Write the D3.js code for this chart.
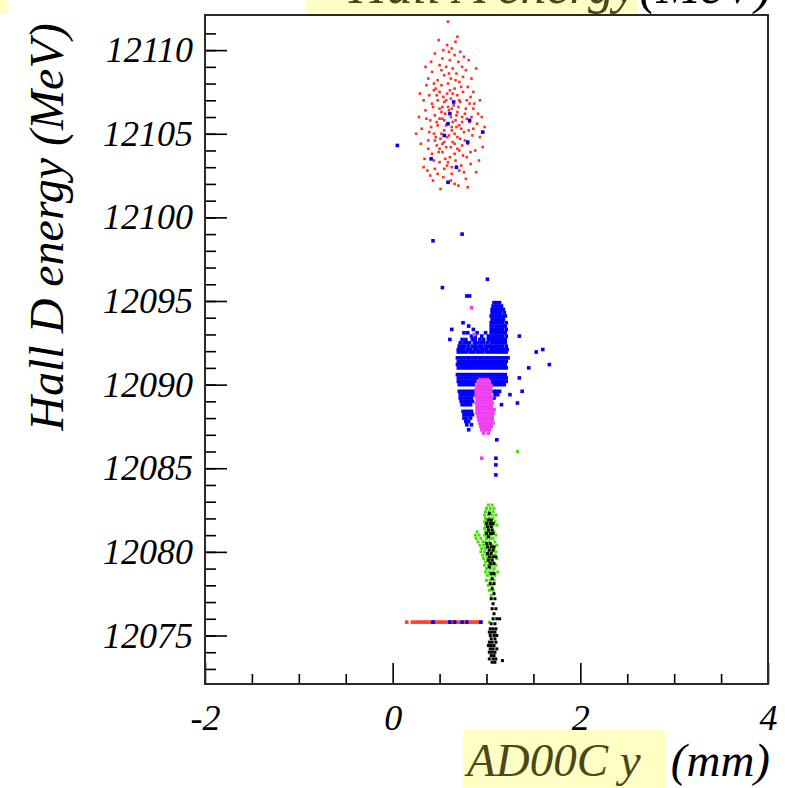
<!DOCTYPE html>
<html lang="en">
<head>
<meta charset="UTF-8">
<title>Hall D energy vs AD00C y</title>
<style>
    body{margin:0;background:#fff;}
    svg text{font-family:'Liberation Serif','DejaVu Serif','Times New Roman',Times,serif !important;font-style:italic;}
</style>
</head>
<body>
<script src="https://cdn.jsdelivr.net/npm/d3@7/dist/d3.min.js"></script>
<script>
    var width=785;
    var height=788;
    var serif="'Liberation Serif','DejaVu Serif','Times New Roman',Times,serif";

    // axis ticks
    var xMajor=[-2,0,2,4];
    var xMinor=[-1.5,-1,-0.5,0.5,1,1.5,2.5,3,3.5];
    var yMajor=[12075,12080,12085,12090,12095,12100,12105,12110];
    var yMinor=d3.range(12073,12112);

    // Hall A cluster (red), [x, y]
    var redPts=[[0.49,12110.6],[0.58,12110.3],[0.63,12110.1],[0.72,12109.9],[0.45,12109.8],[0.66,12109.7],[0.53,12109.5],
        [0.61,12109.4],[0.70,12109.3],[0.76,12109.6],[0.50,12109.1],[0.57,12109.0],[0.64,12108.9],[0.74,12109.0],[0.42,12108.7],
        [0.68,12108.6],[0.78,12108.8],[0.55,12108.5],[0.62,12108.3],[0.48,12108.2],[0.71,12108.1],[0.59,12108.0],[0.36,12107.9],
        [0.80,12107.8],[0.66,12107.7],[0.52,12107.9],[0.44,12107.6],[0.75,12107.5],[0.58,12107.4],[0.69,12107.3],[0.39,12107.3],
        [0.83,12107.2],[0.62,12107.1],[0.48,12107.0],[0.55,12106.9],[0.72,12106.9],[0.87,12106.8],[0.42,12106.8],[0.65,12106.7],
        [0.59,12106.6],[0.50,12106.5],[0.78,12106.5],[0.35,12106.4],[0.69,12106.3],[0.56,12106.2],[0.91,12106.2],[0.45,12106.1],
        [0.62,12106.0],[0.74,12106.0],[0.53,12105.9],[0.67,12105.8],[0.40,12105.8],[0.82,12105.7],[0.58,12105.6],[0.48,12105.5],
        [0.71,12105.5],[0.63,12105.4],[0.31,12105.3],[0.86,12105.3],[0.55,12105.2],[0.76,12105.1],[0.44,12105.0],[0.66,12105.0],
        [0.60,12104.9],[0.93,12104.8],[0.51,12104.7],[0.72,12104.7],[0.38,12104.6],[0.64,12104.5],[0.80,12104.4],[0.47,12104.3],
        [0.57,12104.2],[0.69,12104.1],[0.88,12104.0],[0.53,12103.9],[0.42,12103.8],[0.75,12103.7],[0.61,12103.6],[0.34,12103.5],
        [0.67,12103.4],[0.50,12103.3],[0.83,12103.2],[0.58,12103.1],[0.45,12102.9],[0.71,12102.8],[0.63,12102.6],[0.54,12102.4],
        [0.78,12102.3],[0.40,12102.5],[0.66,12102.0],[0.80,12101.8],[0.46,12107.7],[0.61,12107.6],[0.73,12107.8],[0.54,12107.2],
        [0.79,12107.0],[0.43,12106.6],[0.52,12106.3],[0.60,12106.4],[0.68,12106.1],[0.77,12106.2],[0.84,12106.0],[0.47,12105.7],
        [0.55,12105.8],[0.64,12105.7],[0.73,12105.3],[0.79,12105.9],[0.41,12105.4],[0.52,12105.0],[0.58,12104.8],[0.69,12104.8],
        [0.77,12104.6],[0.85,12104.9],[0.45,12104.6],[0.55,12104.5],[0.62,12104.2],[0.74,12104.3],[0.49,12103.9],[0.66,12103.8],
        [0.56,12103.5],[0.79,12103.6],[0.38,12104.1],[0.90,12105.6],[0.95,12106.0],[0.28,12106.0],[0.33,12107.0],[0.60,12109.9],
        [0.67,12110.5],[0.54,12110.0],[0.47,12107.3],[0.86,12107.5],[0.63,12105.2],[0.70,12106.6],[0.50,12104.1],[0.59,12103.3],
        [0.73,12103.1],[0.48,12102.6],[0.62,12102.2],[0.70,12101.9],[0.59,12111.7],
        [0.30,12104.4],[0.33,12103.0],[0.36,12105.9],[0.29,12107.4],[0.25,12105.0],[0.37,12102.8],[0.43,12102.2],[0.51,12101.7],
        [0.92,12103.4],[0.96,12104.2],[0.89,12102.7],[0.98,12105.4],[0.93,12107.0],[0.84,12108.3],[0.89,12108.9],[0.81,12109.4],
        [0.38,12108.3],[0.41,12109.3],[0.35,12109.0],[0.69,12110.8],[0.52,12108.8],[0.60,12108.6],[0.67,12108.2],[0.75,12108.4],
        [0.44,12108.0],[0.53,12106.6],[0.63,12106.5],[0.74,12105.7],[0.50,12105.9],[0.57,12105.5],[0.81,12105.2],[0.68,12105.4],
        [0.39,12105.1],[0.46,12104.8],[0.53,12104.4],[0.66,12104.4],[0.71,12104.0],[0.83,12103.9],[0.44,12103.4],[0.63,12103.0],
        [0.76,12102.7],[0.55,12102.9],[0.86,12106.5],[0.82,12106.8],[0.57,12107.0],[0.64,12107.4],[0.71,12107.0],[0.50,12107.5]];

    // red band at the bottom: y then x values
    var redLine=[12075.8,0.15,0.21,0.24,0.27,0.30,0.33,0.35,0.38,0.41,0.44,0.47,0.50,0.52,0.55,0.58,0.61,0.64,0.66,
        0.69,0.72,0.75,0.78,0.80,0.83,0.86,0.89,0.91,0.94];

    // blue: rows of [y, x, x, ...]
    var blueRows=[
        [12104.3,0.05],[12106.9,0.65],[12106.2,0.61],[12105.6,0.59],[12105.8,0.82],[12105.1,0.96],[12104.9,0.55],
        [12104.5,0.80],[12103.5,0.41],[12103.0,0.68],[12102.1,0.59],[12099.0,0.74],[12098.6,0.43],
        [12096.3,1.01],[12095.8,0.53],[12095.3,0.79,0.82],
        [12094.9,1.08,1.11,1.14],
        [12094.7,1.07,1.10,1.13,1.16],
        [12094.5,1.06,1.09,1.12,1.15,1.18],
        [12094.3,1.06,1.09,1.12,1.15,1.19],
        [12094.1,1.05,1.08,1.11,1.14,1.17,1.20],
        [12093.9,1.06,1.09,1.12,1.15,1.18],
        [12093.7,0.75,1.05,1.08,1.11,1.14,1.17,1.21],
        [12093.5,0.81,1.05,1.08,1.11,1.14,1.17,1.20],
        [12093.3,0.63,0.86,1.05,1.08,1.11,1.14,1.17,1.21],
        [12093.1,0.76,0.80,0.90,0.99,1.05,1.08,1.11,1.14,1.17,1.20],
        [12092.9,0.84,0.88,0.95,1.02,1.05,1.08,1.11,1.14,1.17,1.21,1.35],
        [12092.7,0.61,0.74,0.78,0.85,0.88,0.93,0.97,1.02,1.05,1.08,1.11,1.14,1.17,1.20],
        [12092.5,0.72,0.76,0.79,0.82,0.87,0.90,0.94,0.97,1.01,1.05,1.08,1.11,1.14,1.17,1.20],
        [12092.3,0.71,0.74,0.77,0.81,0.85,0.88,0.92,0.95,0.99,1.02,1.05,1.08,1.11,1.14,1.17,1.21],
        [12092.1,0.70,0.73,0.76,0.80,0.83,0.87,0.90,0.94,0.97,1.00,1.04,1.07,1.10,1.13,1.16,1.19,1.22,1.60],
        [12091.95,0.70,0.73,0.76,0.79,0.83,0.86,0.90,0.93,0.96,1.00,1.03,1.06,1.09,1.12,1.15,1.18,1.21,1.53],
        [12091.6,0.69,0.72,0.75,0.78,0.81,0.84,0.87,0.90,0.93,0.96,0.99,1.02,1.05,1.08,1.11,1.14,1.17,1.20,1.23],
        [12091.4,0.70,0.73,0.76,0.79,0.82,0.85,0.88,0.91,0.94,0.97,1.00,1.03,1.06,1.09,1.12,1.15,1.18,1.21],
        [12091.2,0.69,0.72,0.75,0.78,0.81,0.84,0.87,0.90,0.93,0.96,0.99,1.02,1.05,1.08,1.11,1.14,1.17,1.20,1.67],
        [12091.0,0.70,0.73,0.76,0.79,0.82,0.85,0.88,0.91,0.94,0.97,1.00,1.03,1.06,1.09,1.12,1.15,1.18,1.21,1.45],
        [12090.6,0.69,0.72,0.75,0.78,0.81,0.84,0.87,0.90,0.93,0.96,0.99,1.02,1.05,1.08,1.11,1.14,1.17,1.20],
        [12090.4,0.70,0.73,0.76,0.79,0.82,0.85,0.88,0.91,0.94,0.97,1.00,1.03,1.06,1.09,1.12,1.15,1.18,1.21,1.35],
        [12090.2,0.70,0.73,0.76,0.79,0.82,0.85,0.88,1.06,1.09,1.12,1.15,1.18,1.21],
        [12090.0,0.71,0.74,0.77,0.80,0.83,0.86,1.07,1.10,1.13,1.16,1.19],
        [12089.6,0.71,0.74,0.77,0.80,0.83,0.86,1.08,1.11,1.14,1.38],
        [12089.4,0.72,0.75,0.78,0.81,0.84,0.87,1.09,1.12,1.25],
        [12089.2,0.72,0.75,0.78,0.81,0.84,1.08],
        [12089.0,0.73,0.76,0.79,0.82,0.85],
        [12088.9,1.33],
        [12088.8,0.74,0.77,0.80,0.83,1.16],
        [12088.4,0.75,0.78,0.81,0.84],
        [12088.2,0.76,0.79,0.82,0.85],
        [12088.0,0.76,0.79,0.83],
        [12087.8,0.78,0.81],
        [12087.6,0.79,0.84],
        [12087.3,0.81],
        [12086.7,1.11],[12085.6,1.10],[12085.2,1.10],[12084.6,1.10],
        [12075.8,0.43,0.61,0.66,0.74,0.79,0.94]];

    var magentaRows=[
        [12094.6,0.84],[12093.0,0.87],
        [12090.3,0.93,0.97,1.01],
        [12090.1,0.91,0.94,0.97,1.00,1.03],
        [12089.9,0.90,0.93,0.96,0.99,1.02,1.05],
        [12089.7,0.89,0.92,0.95,0.98,1.01,1.04],
        [12089.5,0.89,0.92,0.95,0.98,1.01,1.04],
        [12089.3,0.89,0.92,0.95,0.98,1.01,1.04,1.06],
        [12089.1,0.90,0.93,0.96,0.99,1.02,1.05],
        [12088.9,0.89,0.92,0.95,0.98,1.01,1.04,1.06],
        [12088.7,0.90,0.93,0.96,0.99,1.02,1.05],
        [12088.5,0.90,0.93,0.96,0.99,1.02,1.05,1.08],
        [12088.3,0.90,0.93,0.96,0.99,1.02,1.05,1.07],
        [12088.1,0.91,0.94,0.97,1.00,1.03,1.06],
        [12087.9,0.92,0.95,0.98,1.01,1.04,1.06],
        [12087.7,0.93,0.96,0.99,1.02,1.05,1.07],
        [12087.5,0.94,0.97,1.00,1.03,1.05],
        [12087.3,0.95,0.98,1.01,1.03],
        [12087.1,0.97,1.02],
        [12085.6,0.95]];

    var greenRows=[
        [12086.0,1.33],
        [12082.8,1.02,1.06],
        [12082.6,1.00,1.04,1.08],
        [12082.4,0.99,1.03,1.07],
        [12082.2,0.98,1.02,1.06,1.10],
        [12082.0,0.99,1.03,1.07],
        [12081.8,0.98,1.01,1.05,1.09],
        [12081.6,0.99,1.03,1.07,1.11],
        [12081.4,0.98,1.02,1.06],
        [12081.2,0.90,0.99,1.03,1.08],
        [12081.0,0.88,0.92,0.98,1.01,1.05,1.10],
        [12080.8,0.89,0.94,1.00,1.04,1.07],
        [12080.6,0.91,0.96,0.99,1.03,1.09],
        [12080.4,0.93,0.97,1.01,1.06,1.11],
        [12080.2,0.95,0.99,1.03,1.08],
        [12080.0,0.94,0.98,1.02,1.06,1.10],
        [12079.8,0.96,1.00,1.04,1.09],
        [12079.6,0.97,1.01,1.05,1.11],
        [12079.4,0.99,1.03,1.07],
        [12079.2,0.98,1.02,1.06,1.10],
        [12079.0,1.00,1.04,1.08],
        [12078.8,0.99,1.03,1.07,1.12],
        [12078.6,1.01,1.05,1.09],
        [12078.3,1.00,1.04,1.08],
        [12078.0,1.02,1.06],
        [12077.7,1.03,1.07],
        [12077.4,1.05],
        [12075.8,1.03]];

    var blackRows=[
        [12082.3,1.03],
        [12081.9,1.02,1.05],
        [12081.7,1.00,1.04,1.07],
        [12081.5,1.01,1.05],
        [12081.3,1.02,1.06],
        [12081.1,1.00,1.04,1.07],
        [12080.9,1.02],
        [12080.5,1.00,1.04],
        [12080.3,1.01,1.05,1.08],
        [12080.1,1.03,1.07],
        [12079.9,1.01,1.05],
        [12079.7,1.03,1.07,1.10],
        [12079.5,1.02,1.06],
        [12079.3,1.04,1.08],
        [12079.1,1.03],
        [12078.7,1.05,1.08],
        [12078.4,1.06],
        [12078.1,1.04,1.08],
        [12077.8,1.06],
        [12077.5,1.08],
        [12077.2,1.05,1.09],
        [12076.9,1.07],
        [12076.6,1.06,1.10],
        [12076.3,1.08],
        [12076.0,1.07,1.11,1.14],
        [12075.7,1.05,1.09],
        [12075.4,1.04,1.07,1.10],
        [12075.2,1.03,1.06,1.09],
        [12075.0,1.04,1.08,1.11],
        [12074.8,1.05,1.09],
        [12074.6,1.03,1.06,1.10],
        [12074.4,1.02,1.05,1.08],
        [12074.2,1.04,1.07,1.11],
        [12074.0,1.03,1.06,1.09],
        [12073.8,1.05,1.08],
        [12073.6,1.03,1.07,1.10],
        [12073.5,1.17],
        [12073.4,1.06,1.09]];

    function fromRows(rows){
        var out=[];
        rows.forEach(function(r){
            for(var i=1;i<r.length;i++){ out.push([r[i],r[0]]); }
        });
        return out;
    }

    var svg=d3.select('body')
            .append('svg')
            .attr('width',width)
            .attr('height',height);

    svg.append('rect').attr('width',width).attr('height',height).attr('fill','#fff');

    var x=d3.scaleLinear().domain([-2,4]).range([205,768]);
    var y=d3.scaleLinear().domain([12072.1,12112.1]).range([684,15]);

    svg.append('clipPath').attr('id','plot')
            .append('rect')
            .attr('x',205).attr('y',15)
            .attr('width',563).attr('height',669);

    function drawPts(data,color,size){
        svg.append('g')
                .attr('clip-path','url(#plot)')
                .selectAll('rect')
                .data(data)
                .enter()
                .append('rect')
                .attr('x',function(d){ return x(d[0])-size/2; })
                .attr('y',function(d){ return y(d[1])-size/2; })
                .attr('width',size)
                .attr('height',size)
                .attr('fill',color);
    }

    drawPts(redPts,'#ff3020',2.6);
    drawPts(fromRows([redLine]),'#ff4030',3.6);
    drawPts(fromRows(blueRows),'#0000ff',3.6);
    drawPts(fromRows(magentaRows),'#f040f0',3.6);
    drawPts(fromRows(greenRows),'#44e000',3);
    drawPts(fromRows(blackRows),'#000',3);

    function styleAxis(g,size){
        g.select('.domain').remove();
        g.attr('font-size',size).attr('font-family',serif);
        g.selectAll('line').attr('stroke','#000').attr('stroke-width',1.6);
        g.selectAll('text').attr('fill','#000').attr('font-family',serif).attr('font-style','italic');
    }

    // plain hyphen minus, as in the original labels
    var plain=function(d){ return String(d); };

    // y axis: minor then major ticks pointing into the frame
    svg.append('g')
            .attr('transform','translate(205,0)')
            .call(d3.axisLeft(y).tickValues(yMinor).tickSize(-11).tickFormat(''))
            .call(function(g){ styleAxis(g,36); });
    svg.append('g')
            .attr('transform','translate(205,0)')
            .call(d3.axisLeft(y).tickValues(yMajor).tickSize(-22).tickPadding(12).tickFormat(plain))
            .call(function(g){ styleAxis(g,36); });

    // x axis
    svg.append('g')
            .attr('transform','translate(0,684)')
            .call(d3.axisBottom(x).tickValues(xMinor).tickSize(-10).tickFormat(''))
            .call(function(g){ styleAxis(g,36); });
    svg.append('g')
            .attr('transform','translate(0,684)')
            .call(d3.axisBottom(x).tickValues(xMajor).tickSize(-21).tickPadding(20).tickFormat(plain))
            .call(function(g){ styleAxis(g,36); });

    // frame
    svg.append('rect')
            .attr('x',205).attr('y',15)
            .attr('width',563).attr('height',669)
            .attr('fill','none')
            .attr('stroke','#2a2a2a')
            .attr('stroke-width',2);

    // highlighted titles
    svg.append('rect').attr('x',0).attr('y',0).attr('width',8).attr('height',14).attr('fill','#ffffc4');
    svg.append('rect').attr('x',305).attr('y',0).attr('width',332).attr('height',13).attr('fill','#ffffc4');
    svg.append('rect').attr('x',463).attr('y',730).attr('width',202).attr('height',58).attr('fill','#ffffc4');

    function label(txt,px,py,anchor,size,color,rot){
        return svg.append('text')
                .attr('transform','translate('+px+','+py+')'+(rot?' rotate('+rot+')':''))
                .attr('text-anchor',anchor)
                .attr('font-family',serif)
                .attr('font-style','italic')
                .attr('font-size',size)
                .attr('fill',color)
                .text(txt);
    }

    label('Hall A energy',637,3,'end',52,'#4a4818');
    label('(MeV)',772,3,'end',52,'#000');
    label('Hall D energy (MeV)',63,227,'middle',48,'#000',-90);
    label('AD00C y',467,776,'start',47,'#4a4818');
    label('(mm)',770,776,'end',47,'#000');
</script>
</body>
</html>
